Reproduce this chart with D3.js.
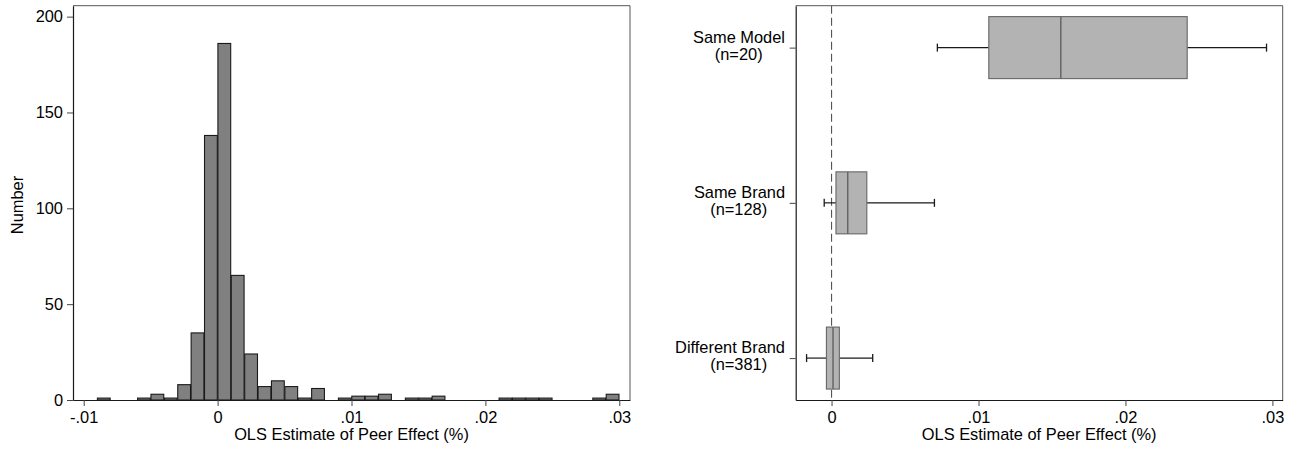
<!DOCTYPE html>
<html>

<head>
    <script src="https://d3js.org/d3.v7.min.js"></script>
    <title>Peer effect estimates</title>
    <meta charset="utf-8" />
    <style>
        body { margin: 0; background: #fff; }
        svg text { font-family: "Liberation Sans", Arial, sans-serif; font-size: 16.4px; fill: #000; }
    </style>
</head>

<body>
    <div id="chart"></div>

    <script>
        // histogram data (bin left edges, width .001)
        const binLeft = [-0.009, -0.008, -0.007, -0.006, -0.005, -0.004, -0.003, -0.002, -0.001, 0.000,
            0.001, 0.002, 0.003, 0.004, 0.005, 0.006, 0.007, 0.008, 0.009, 0.010,
            0.011, 0.012, 0.013, 0.014, 0.015, 0.016, 0.017, 0.018, 0.019, 0.020,
            0.021, 0.022, 0.023, 0.024, 0.025, 0.026, 0.027, 0.028, 0.029];
        const binCount = [1, 0, 0, 1, 3, 1, 8, 35, 138, 186,
            65, 24, 7, 10, 7, 1, 6, 0, 1, 2,
            2, 3, 0, 1, 1, 2, 0, 0, 0, 0,
            1, 1, 1, 1, 0, 0, 0, 1, 3];
        const binWidth = 0.001;

        const histYTicks = [0, 50, 100, 150, 200];
        const xTicks = [-0.01, 0, 0.01, 0.02, 0.03];
        const histXTickLabels = ["-.01", "0", ".01", ".02", ".03"];
        const boxXTicks = [0, 0.01, 0.02, 0.03];
        const boxXTickLabels = ["0", ".01", ".02", ".03"];

        // box plot data
        const groups = ["Same Model", "Same Brand", "Different Brand"];
        const groupN = ["(n=20)", "(n=128)", "(n=381)"];
        const lowerWhisker = [0.0072, -0.0005, -0.0017];
        const q1 = [0.0107, 0.0003, -0.00035];
        const median = [0.0156, 0.0011, 0.0001];
        const q3 = [0.0242, 0.0024, 0.00053];
        const upperWhisker = [0.0296, 0.0070, 0.0028];

        const svgWidth = 1293;
        const svgHeight = 449;

        const svg = d3.select("#chart")
            .append("svg")
            .attr("width", svgWidth)
            .attr("height", svgHeight);

        svg.append("rect").attr("width", svgWidth).attr("height", svgHeight).attr("fill", "#fff");

        const axisColor = "#1a1a1a";
        const frameColor = "#555";

        // ---------- left: histogram ----------
        const left = { x0: 73, x1: 630, y0: 5.7, y1: 400 };

        const hx = d3.scaleLinear().domain([-0.0108, 0.0308]).range([left.x0, left.x1]);
        const hy = d3.scaleLinear().domain([0, 205.7]).range([left.y1, left.y0]);

        const histData = binLeft.map((b, i) => ({ x: b, n: binCount[i] })).filter(d => d.n > 0);

        svg.append("g").selectAll("rect")
            .data(histData)
            .enter().append("rect")
            .attr("x", d => hx(d.x) + 0.3)
            .attr("y", d => hy(d.n))
            .attr("width", d => hx(d.x + binWidth) - hx(d.x) - 0.6)
            .attr("height", d => hy(0) - hy(d.n))
            .attr("fill", "#808080")
            .attr("stroke", "#1a1a1a")
            .attr("stroke-width", 1.1);

        // frame
        svg.append("path")
            .attr("d", `M${left.x0},${left.y0}H${left.x1}V${left.y1}`)
            .attr("fill", "none").attr("stroke", frameColor).attr("stroke-width", 1);

        const hxAxis = svg.append("g")
            .attr("transform", `translate(0, ${left.y1})`)
            .call(d3.axisBottom(hx).tickValues(xTicks).tickSize(6).tickSizeOuter(0).tickPadding(5)
                .tickFormat((d, i) => histXTickLabels[i]));

        const hyAxis = svg.append("g")
            .attr("transform", `translate(${left.x0}, 0)`)
            .call(d3.axisLeft(hy).tickValues(histYTicks).tickSize(6).tickSizeOuter(0).tickPadding(4)
                .tickFormat(d => d));

        [hxAxis, hyAxis].forEach(a => {
            a.select(".domain").attr("stroke", axisColor).attr("stroke-width", 1.2);
            a.selectAll(".tick line").attr("stroke", "#444");
            a.selectAll("text").style("font-size", "16.4px").attr("fill", "#000");
        });

        svg.append("text")
            .attr("x", (left.x0 + left.x1) / 2)
            .attr("y", 440)
            .style("text-anchor", "middle")
            .text("OLS Estimate of Peer Effect (%)");

        svg.append("text")
            .attr("transform", "rotate(-90)")
            .attr("x", -205)
            .attr("y", 23.3)
            .style("text-anchor", "middle")
            .text("Number");

        // ---------- right: box plots ----------
        const right = { x0: 795.7, x1: 1282.7, y0: 5.7, y1: 400 };

        const bx = d3.scaleLinear().domain([-0.00244, 0.0307]).range([right.x0, right.x1]);
        const by = d3.scalePoint().domain(groups).range([right.y0, right.y1]).padding(0.27);
        const boxHalf = 31;

        // zero reference line
        svg.append("line")
            .attr("x1", bx(0)).attr("x2", bx(0))
            .attr("y1", right.y0).attr("y2", right.y1)
            .attr("stroke", "#555")
            .attr("stroke-width", 1.1)
            .attr("stroke-dasharray", "8,4");

        const boxData = groups.map((g, i) => ({
            g: g, lw: lowerWhisker[i], q1: q1[i], med: median[i], q3: q3[i], uw: upperWhisker[i]
        }));

        const boxes = svg.append("g").selectAll("g")
            .data(boxData)
            .enter().append("g");

        // whiskers
        boxes.append("line")
            .attr("x1", d => bx(d.lw)).attr("x2", d => bx(d.q1))
            .attr("y1", d => by(d.g)).attr("y2", d => by(d.g))
            .attr("stroke", "#1a1a1a").attr("stroke-width", 1.2);
        boxes.append("line")
            .attr("x1", d => bx(d.q3)).attr("x2", d => bx(d.uw))
            .attr("y1", d => by(d.g)).attr("y2", d => by(d.g))
            .attr("stroke", "#1a1a1a").attr("stroke-width", 1.2);
        boxes.append("line")
            .attr("x1", d => bx(d.lw)).attr("x2", d => bx(d.lw))
            .attr("y1", d => by(d.g) - 4).attr("y2", d => by(d.g) + 4)
            .attr("stroke", "#1a1a1a").attr("stroke-width", 1.3);
        boxes.append("line")
            .attr("x1", d => bx(d.uw)).attr("x2", d => bx(d.uw))
            .attr("y1", d => by(d.g) - 4).attr("y2", d => by(d.g) + 4)
            .attr("stroke", "#1a1a1a").attr("stroke-width", 1.3);

        // box
        boxes.append("rect")
            .attr("x", d => bx(d.q1))
            .attr("y", d => by(d.g) - boxHalf)
            .attr("width", d => bx(d.q3) - bx(d.q1))
            .attr("height", boxHalf * 2)
            .attr("fill", "#b3b3b3")
            .attr("stroke", "#666")
            .attr("stroke-width", 1.1);

        boxes.append("line")
            .attr("x1", d => bx(d.med)).attr("x2", d => bx(d.med))
            .attr("y1", d => by(d.g) - boxHalf).attr("y2", d => by(d.g) + boxHalf)
            .attr("stroke", "#666").attr("stroke-width", 1.5);

        // frame
        svg.append("path")
            .attr("d", `M${right.x0},${right.y0}H${right.x1}V${right.y1}`)
            .attr("fill", "none").attr("stroke", frameColor).attr("stroke-width", 1);

        const bxAxis = svg.append("g")
            .attr("transform", `translate(0, ${right.y1})`)
            .call(d3.axisBottom(bx).tickValues(boxXTicks).tickSize(6).tickSizeOuter(0).tickPadding(5)
                .tickFormat((d, i) => boxXTickLabels[i]));

        const byAxis = svg.append("g")
            .attr("transform", `translate(${right.x0}, 0)`)
            .call(d3.axisLeft(by).tickSize(6).tickSizeOuter(0).tickFormat(""));

        [bxAxis, byAxis].forEach(a => {
            a.select(".domain").attr("stroke", axisColor).attr("stroke-width", 1.2);
            a.selectAll(".tick line").attr("stroke", "#444");
            a.selectAll("text").style("font-size", "16.4px").attr("fill", "#000");
        });

        // two-line group labels
        const labels = svg.append("g").selectAll("g")
            .data(groups)
            .enter().append("g");
        labels.append("text")
            .attr("x", 785)
            .attr("y", d => by(d) - 5)
            .style("text-anchor", "end")
            .text(d => d);
        labels.append("text")
            .attr("x", 738.7)
            .attr("y", d => by(d) + 12)
            .style("text-anchor", "middle")
            .text((d, i) => groupN[i]);

        svg.append("text")
            .attr("x", (right.x0 + right.x1) / 2)
            .attr("y", 440)
            .style("text-anchor", "middle")
            .text("OLS Estimate of Peer Effect (%)");
    </script>
</body>

</html>
